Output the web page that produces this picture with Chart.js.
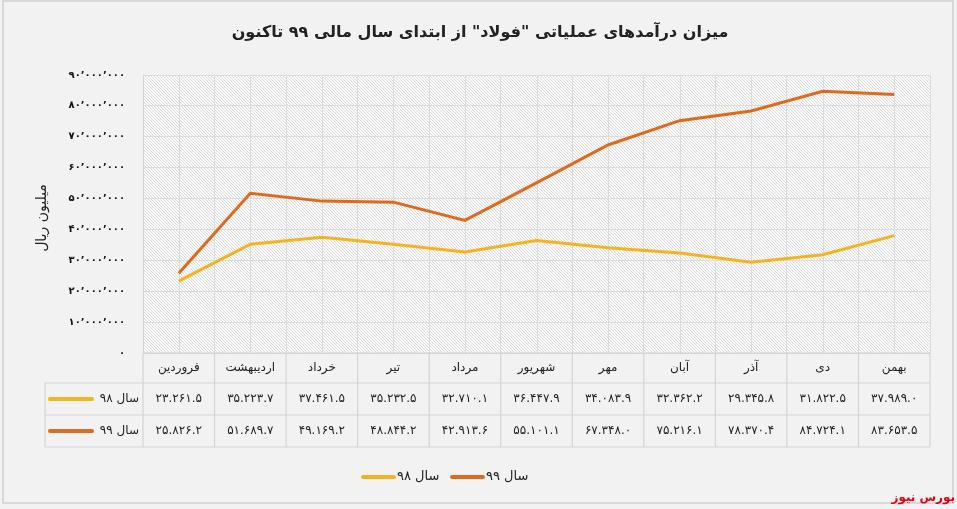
<!DOCTYPE html>
<html lang="fa">
<head>
<meta charset="utf-8">
<title>درآمدهای عملیاتی فولاد</title>
<script src="https://cdn.jsdelivr.net/npm/chart.js@4.4.1/dist/chart.umd.min.js"></script>
<style>
    html, body { margin: 0; padding: 0; background: #ffffff; }
    #wrap { position: relative; width: 957px; height: 509px; }
</style>
</head>
<body>
<div id="wrap"><canvas id="incomeChart"></canvas></div>
<script>
// Data (thousand million rials)
const months = ['فروردین', 'اردیبهشت', 'خرداد', 'تیر', 'مرداد', 'شهریور', 'مهر', 'آبان', 'آذر', 'دی', 'بهمن'];
const income98 = [23261.5, 35223.7, 37461.5, 35232.5, 32710.1, 36447.9, 34083.9, 32362.2, 29345.8, 31822.5, 37989.0];
const income99 = [25826.2, 51689.7, 49169.2, 48844.2, 42913.6, 55101.1, 67348.0, 75216.1, 78370.4, 84724.1, 83653.5];
const seriesNames = ['سال ۹۸', 'سال ۹۹'];
const seriesColors = ['#f5b41f', '#e06a1c'];
const yMax = 90000;
const yStep = 10000;

const chartTitle = 'میزان درآمدهای عملیاتی "فولاد" از ابتدای سال مالی ۹۹ تاکنون';
const yTitle = 'میلیون ریال';
const brand = 'بورس نیوز';

const FONT = '"DejaVu Sans", sans-serif';
const faDigits = '۰۱۲۳۴۵۶۷۸۹';
const toFa = s => String(s).replace(/[0-9]/g, d => faDigits[d]);

// 23261.5 -> ۲۳.۲۶۱.۵
const tableNumber = v => {
    const parts = v.toFixed(1).split('.');
    const grouped = parts[0].replace(/\B(?=(\d{3})+(?!\d))/g, '.');
    return toFa(grouped + '.' + parts[1]);
};

// y tick: 90000 -> ۹۰٬۰۰۰٬۰۰۰
const tickNumber = v => toFa((v * 1000).toLocaleString('en-US').replace(/,/g, '٬'));

// Hatched plot background
const makeHatch = () => {
    const c = document.createElement('canvas');
    c.width = 3; c.height = 3;
    const g = c.getContext('2d');
    g.fillStyle = '#fafafa';
    g.fillRect(0, 0, 3, 3);
    g.strokeStyle = '#d8d8d8';
    g.lineWidth = 0.9;
    g.beginPath();
    g.moveTo(-1, -1); g.lineTo(4, 4);
    g.moveTo(-1, 2); g.lineTo(1, 4);
    g.moveTo(2, -1); g.lineTo(4, 1);
    g.stroke();
    return c;
};

const frameAndTable = {
    id: 'frameAndTable',
    beforeDraw(chart) {
        const { ctx, chartArea: a } = chart;
        ctx.save();
        ctx.fillStyle = '#f2f2f2';
        ctx.fillRect(0, 0, chart.width, chart.height);
        ctx.strokeStyle = '#d0d0d0';
        ctx.lineWidth = 1.5;
        ctx.strokeRect(3, 1, 950, 502);
        ctx.fillStyle = ctx.createPattern(makeHatch(), 'repeat');
        ctx.fillRect(a.left, a.top, a.right - a.left, a.bottom - a.top);
        ctx.restore();
    },
    beforeDatasetsDraw(chart) {
        // extra vertical grid lines through the category centres
        const { ctx, chartArea: a, scales: { x } } = chart;
        ctx.save();
        ctx.strokeStyle = '#dcdcdc';
        ctx.lineWidth = 1;
        months.forEach((m, i) => {
            const px = Math.round(x.getPixelForValue(i)) + 0.5;
            ctx.beginPath();
            ctx.moveTo(px, a.top);
            ctx.lineTo(px, a.bottom);
            ctx.stroke();
        });
        ctx.restore();
    },
    afterDraw(chart) {
        const { ctx, chartArea: a, scales: { x } } = chart;
        const half = (x.getPixelForValue(1) - x.getPixelForValue(0)) / 2;
        const rows = [a.bottom, 383, 415, 447];
        const labelLeft = 45;
        ctx.save();
        ctx.direction = 'rtl';

        // title
        ctx.fillStyle = '#222';
        ctx.font = 'bold 16px ' + FONT;
        ctx.textAlign = 'center';
        ctx.textBaseline = 'middle';
        ctx.fillText(chartTitle, 480, 33);

        // y axis title
        ctx.save();
        ctx.translate(42, 218);
        ctx.rotate(-Math.PI / 2);
        ctx.font = '14px ' + FONT;
        ctx.fillText(yTitle, 0, 0);
        ctx.restore();

        // table grid
        ctx.strokeStyle = '#d4d4d4';
        ctx.lineWidth = 1.2;
        ctx.beginPath();
        ctx.moveTo(a.left, rows[0]); ctx.lineTo(a.right, rows[0]);
        for (let r = 1; r < rows.length; r++) {
            ctx.moveTo(labelLeft, rows[r]); ctx.lineTo(a.right, rows[r]);
        }
        ctx.moveTo(labelLeft, rows[1]); ctx.lineTo(labelLeft, rows[3]);
        ctx.moveTo(a.left, rows[0]); ctx.lineTo(a.left, rows[3]);
        months.forEach((m, i) => {
            const r = x.getPixelForValue(i) + half;
            ctx.moveTo(r, rows[0]); ctx.lineTo(r, rows[3]);
        });
        ctx.stroke();

        // table text
        ctx.fillStyle = '#222';
        ctx.font = '12px ' + FONT;
        ctx.textAlign = 'center';
        months.forEach((m, i) => {
            const cx = x.getPixelForValue(i);
            ctx.fillText(m, cx, (rows[0] + rows[1]) / 2);
            ctx.fillText(tableNumber(income98[i]), cx, (rows[1] + rows[2]) / 2);
            ctx.fillText(tableNumber(income99[i]), cx, (rows[2] + rows[3]) / 2);
        });

        // row labels with legend keys
        [income98, income99].forEach((s, k) => {
            const cy = (rows[k + 1] + rows[k + 2]) / 2;
            ctx.strokeStyle = seriesColors[k];
            ctx.lineWidth = 4;
            ctx.lineCap = 'round';
            ctx.beginPath();
            ctx.moveTo(50, cy); ctx.lineTo(92, cy);
            ctx.stroke();
            ctx.textAlign = 'right';
            ctx.fillText(seriesNames[k], a.left - 4, cy);
        });

        // bottom legend (سال ۹۹ on the left, سال ۹۸ on the right)
        const legendY = 477;
        const items = [{ k: 1, x0: 452 }, { k: 0, x0: 363 }];
        ctx.font = '13px ' + FONT;
        ctx.textAlign = 'left';
        items.forEach(it => {
            ctx.strokeStyle = seriesColors[it.k];
            ctx.lineWidth = 4;
            ctx.beginPath();
            ctx.moveTo(it.x0, legendY); ctx.lineTo(it.x0 + 31, legendY);
            ctx.stroke();
            ctx.fillText(seriesNames[it.k], it.x0 + 34, legendY);
        });

        // brand mark
        ctx.fillStyle = '#e3000f';
        ctx.font = 'bold 12px ' + FONT;
        ctx.textAlign = 'right';
        ctx.textBaseline = 'alphabetic';
        ctx.fillText(brand, 955, 501);
        ctx.restore();
    }
};

document.addEventListener('DOMContentLoaded', () => {
    const ctx = document.getElementById('incomeChart');

    new Chart(ctx, {
        type: 'line',
        data: {
            labels: months,
            datasets: [
                {
                    label: seriesNames[0],
                    data: income98,
                    borderColor: seriesColors[0],
                    borderWidth: 3,
                    pointRadius: 0,
                    tension: 0
                },
                {
                    label: seriesNames[1],
                    data: income99,
                    borderColor: seriesColors[1],
                    borderWidth: 3,
                    pointRadius: 0,
                    tension: 0
                }
            ]
        },
        options: {
            responsive: true,
            maintainAspectRatio: false,
            animation: false,
            layout: {
                padding: { left: 0, top: 75, right: 27, bottom: 156 }
            },
            plugins: {
                legend: { display: false },
                title: { display: false },
                tooltip: { enabled: false }
            },
            scales: {
                x: {
                    offset: true,
                    ticks: { display: false },
                    grid: { color: '#dcdcdc', drawTicks: false, offset: true },
                    border: { color: '#d4d4d4' }
                },
                y: {
                    min: 0,
                    max: yMax,
                    afterFit: scale => { scale.width = 143; },
                    ticks: {
                        stepSize: yStep,
                        padding: 18,
                        color: '#111',
                        font: { family: 'DejaVu Sans', size: 10, weight: 'bold' },
                        callback: v => tickNumber(v)
                    },
                    grid: { color: '#dcdcdc', drawTicks: false },
                    border: { color: '#d4d4d4' }
                }
            }
        },
        plugins: [frameAndTable]
    });
});
</script>
</body>
</html>
